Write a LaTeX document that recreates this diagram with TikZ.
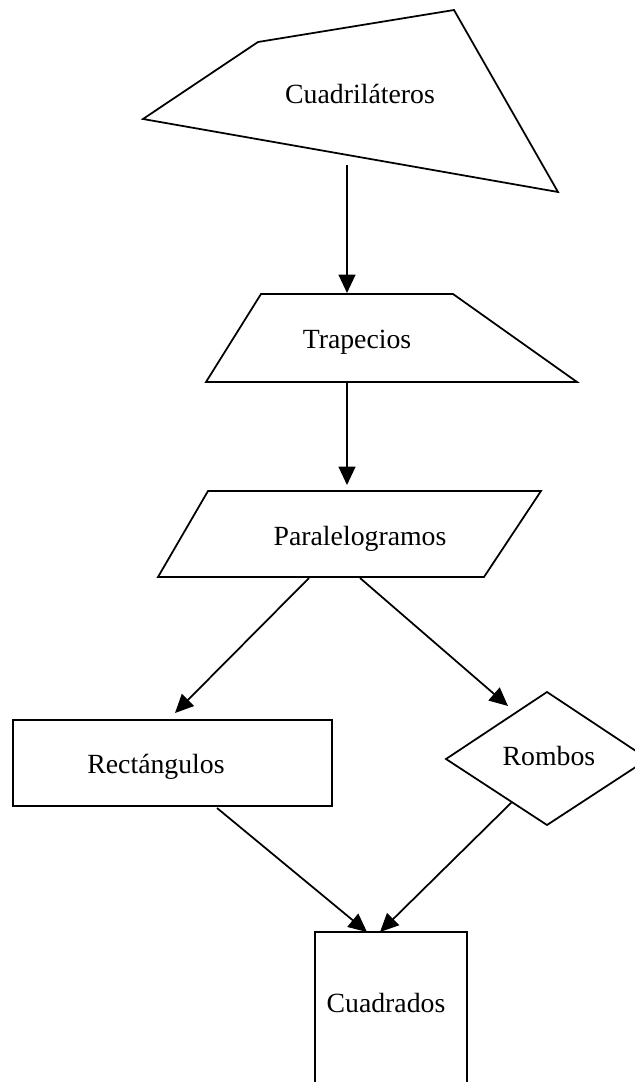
\documentclass[tikz,border=0pt]{standalone}
\usepackage{fontspec}
\setmainfont{Liberation Serif}
\usetikzlibrary{positioning, calc, arrows.meta}

\begin{document}
\begin{tikzpicture}[x=0.02cm, y=-0.02cm, line width=1pt,
    label/.style={anchor=base, inner sep=0pt, font=\fontsize{15.8}{18}\selectfont},
    edge/.style={-{Triangle[length=0.37cm, width=0.34cm]}},
    outline/.style={draw, line join=miter}]
  \useasboundingbox (0,0) rectangle (635,1082);
  % the shapes
  \draw[outline] (258,42) -- (454,10) -- (558,192) -- (143,119) -- cycle;
  \node[label] (quad) at (360,103) {Cuadriláteros};
  \draw[outline] (261,294) -- (453,294) -- (577,382) -- (206,382) -- cycle;
  \node[label] (trap) at (357,348) {Trapecios};
  \draw[outline] (208,491) -- (541,491) -- (484,577) -- (158,577) -- cycle;
  \node[label] (para) at (360,545) {Paralelogramos};
  \draw[outline] (13,720) rectangle (332,806);
  \node[label] (rect) at (156,773) {Rectángulos};
  \draw[outline] (547,692) -- (648,759) -- (547,825) -- (446,759) -- cycle;
  \node[label] (romb) at (549,765) {Rombos};
  \draw[outline] (315,932) rectangle (467,1095);
  \node[label] (cuad) at (386,1012) {Cuadrados};
  % connector ends
  \coordinate (quadS) at (347,165);
  \coordinate (trapN) at (347,293);
  \coordinate (trapS) at (347,383);
  \coordinate (paraN) at (347,485);
  \coordinate (paraSW) at (309,578);
  \coordinate (paraSE) at (360,578);
  \coordinate (rectN) at (175,713);
  \coordinate (rombNW) at (508,706);
  \coordinate (rectS) at (217,808);
  \coordinate (rombSW) at (512,802);
  \coordinate (cuadNW) at (367,932);
  \coordinate (cuadNE) at (380,932);
  % the arrows
  \draw[edge] (quadS) -- (trapN);
  \draw[edge] (trapS) -- (paraN);
  \draw[edge] (paraSW) -- (rectN);
  \draw[edge] (paraSE) -- (rombNW);
  \draw[edge] (rectS) -- (cuadNW);
  \draw[edge] (rombSW) -- (cuadNE);
\end{tikzpicture}
\end{document}
